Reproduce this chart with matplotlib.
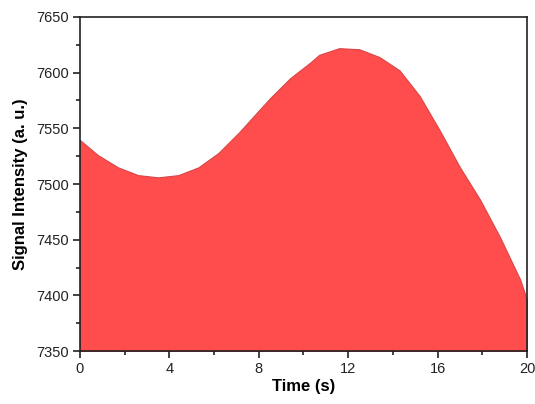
import matplotlib
matplotlib.use("Agg")
import matplotlib.pyplot as plt
from matplotlib.ticker import MultipleLocator

# values
time_s = [0, 0.8, 1.7, 2.6, 3.5, 4.4, 5.3, 6.2, 7.1, 8.0, 8.5, 9.4, 10.3, 10.7,
          11.6, 12.5, 13.4, 14.3, 15.2, 16.1, 17.0, 17.9, 18.8, 19.7, 20]
signal = [7539.5, 7526, 7515, 7508, 7506, 7508, 7515, 7528, 7546, 7566, 7577,
          7595, 7609, 7616, 7622, 7621, 7614, 7602, 7579, 7548, 7515, 7486,
          7452, 7414, 7396]

plt.rcParams["font.family"] = ["Liberation Sans", "DejaVu Sans"]

fig = plt.figure(figsize=(5.35, 4.04), dpi=100)
ax = fig.add_axes([0.1495, 0.131, 0.8355, 0.827])

ax.fill_between(time_s, signal, 7350, facecolor="#FF4D4D", edgecolor="#D94545",
                lw=0.8, joinstyle="round")

ax.set_xlim(0, 20)
ax.set_ylim(7350, 7650)
ax.xaxis.set_major_locator(MultipleLocator(4))
ax.xaxis.set_minor_locator(MultipleLocator(2))
ax.yaxis.set_major_locator(MultipleLocator(50))
ax.yaxis.set_minor_locator(MultipleLocator(25))
ax.tick_params(which="both", direction="out", top=False, right=False,
               labelsize=10.5, width=1.2, color="#222222", labelcolor="#222222")
ax.tick_params(which="major", length=5, pad=3)
ax.tick_params(which="minor", length=3)
for sp in ax.spines.values():
    sp.set_linewidth(1.2)
    sp.set_color("#222222")

ax.set_xlabel("Time (s)", fontsize=12, fontweight="bold", labelpad=2)
ax.set_ylabel("Signal Intensity (a. u.)", fontsize=12, fontweight="bold", labelpad=6)

fig.savefig("out.png", dpi=100)
